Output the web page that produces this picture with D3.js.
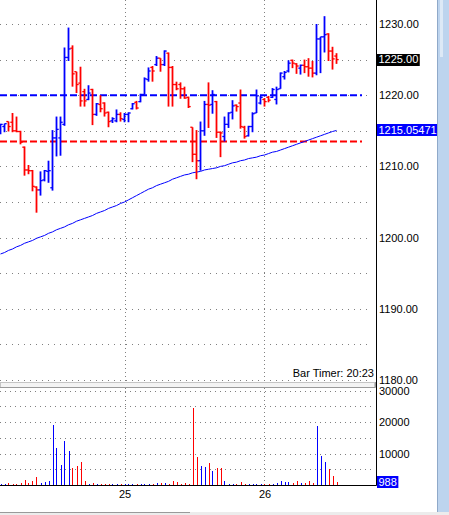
<!DOCTYPE html>
<html>
<head>
<meta charset="utf-8">
<script src="https://cdn.jsdelivr.net/npm/d3@7"></script>
<style>
  body { margin: 0; background: #fff; }
  svg { display: block; font-family: "Liberation Sans", Arial, sans-serif; font-size: 11px; }
</style>
</head>
<body>
<div id="chart"></div>
<script>
// bar data, one value per bar, oldest first
var opens = [
  1215.2, 1215.6, 1216.3, 1216.2, 1215.0, 1214.9, 1212.7, 1209.5, 1209.4, 1207.1,
  1206.7, 1208.1, 1209.3, 1207.0, 1214.0, 1214.0, 1215.9, 1225.3, 1226.6, 1223.3,
  1221.7, 1220.5, 1219.4, 1220.8, 1217.3, 1218.7, 1218.9, 1217.6, 1216.4, 1216.4,
  1217.3, 1216.6, 1217.3, 1218.1, 1219.0, 1219.1, 1220.1, 1222.2, 1223.9, 1224.3,
  1225.2, 1224.3, 1225.9, 1223.9, 1221.5, 1221.5, 1220.9, 1219.7, 1215.5, 1211.7,
  1210.8, 1215.0, 1218.7, 1218.7, 1219.1, 1214.8, 1214.2, 1215.9, 1217.6, 1218.6,
  1218.9, 1215.5, 1214.3, 1215.6, 1217.5, 1218.9, 1219.4, 1219.7, 1219.7, 1219.4,
  1220.9, 1222.6, 1223.4, 1224.9, 1224.4, 1223.8, 1224.2, 1224.0, 1223.8, 1223.1,
  1227.9, 1228.2, 1228.6, 1226.2, 1225.5
];
var highs = [
  1216.0, 1216.0, 1216.3, 1217.5, 1217.0, 1215.0, 1212.8, 1210.2, 1209.5, 1207.2,
  1209.3, 1209.5, 1210.8, 1215.1, 1217.0, 1217.0, 1226.7, 1229.5, 1227.0, 1223.3,
  1224.0, 1220.9, 1221.4, 1220.9, 1218.9, 1220.0, 1219.0, 1217.7, 1216.9, 1218.0,
  1217.6, 1217.5, 1217.6, 1218.9, 1219.2, 1220.2, 1222.5, 1223.9, 1224.1, 1225.5,
  1225.2, 1226.3, 1226.0, 1224.1, 1221.9, 1221.8, 1221.2, 1219.8, 1215.5, 1215.1,
  1216.3, 1219.2, 1221.8, 1220.7, 1219.2, 1214.9, 1217.0, 1217.6, 1219.3, 1218.7,
  1220.8, 1215.7, 1215.7, 1217.6, 1220.8, 1219.9, 1219.6, 1219.9, 1221.0, 1221.2,
  1223.2, 1223.4, 1224.9, 1225.0, 1224.5, 1224.3, 1225.0, 1225.2, 1224.8, 1230.0,
  1228.2, 1231.1, 1228.7, 1226.8, 1225.9
];
var lows = [
  1214.5, 1214.8, 1214.9, 1214.8, 1214.8, 1213.1, 1208.7, 1208.9, 1206.5, 1203.5,
  1205.9, 1207.9, 1207.7, 1206.6, 1211.4, 1211.5, 1215.7, 1224.8, 1221.2, 1220.3,
  1218.4, 1218.4, 1219.3, 1215.8, 1217.1, 1217.6, 1217.0, 1215.5, 1216.1, 1216.2,
  1216.3, 1216.2, 1216.2, 1218.0, 1218.0, 1219.0, 1220.1, 1221.9, 1221.9, 1224.1,
  1223.3, 1224.1, 1218.4, 1218.4, 1220.7, 1219.5, 1219.5, 1218.2, 1210.6, 1208.2,
  1209.4, 1214.3, 1215.4, 1217.4, 1214.0, 1211.3, 1213.5, 1215.4, 1216.6, 1217.7,
  1215.3, 1213.9, 1214.2, 1214.8, 1217.5, 1218.7, 1218.4, 1219.0, 1219.6, 1218.7,
  1220.9, 1222.2, 1223.2, 1223.8, 1223.0, 1222.9, 1223.1, 1222.6, 1222.5, 1222.8,
  1223.1, 1226.0, 1224.8, 1223.6, 1224.4
];
var closes = [
  1215.9, 1216.0, 1215.6, 1215.0, 1214.9, 1213.4, 1209.5, 1209.4, 1207.2, 1206.7,
  1208.0, 1209.4, 1209.4, 1214.0, 1215.2, 1216.2, 1225.3, 1226.5, 1223.0, 1221.5,
  1219.2, 1219.2, 1220.3, 1217.3, 1218.8, 1218.1, 1217.5, 1216.3, 1216.7, 1217.3,
  1216.7, 1217.3, 1217.5, 1218.8, 1218.2, 1220.1, 1222.3, 1223.4, 1223.4, 1225.2,
  1224.3, 1226.2, 1223.9, 1221.5, 1220.9, 1220.9, 1219.6, 1218.4, 1211.7, 1210.8,
  1215.0, 1218.7, 1218.6, 1220.1, 1214.8, 1214.7, 1215.9, 1217.5, 1218.5, 1218.4,
  1215.6, 1214.2, 1215.6, 1217.4, 1219.9, 1219.7, 1219.1, 1219.3, 1220.8, 1220.8,
  1223.1, 1223.2, 1224.5, 1224.5, 1224.1, 1224.2, 1224.0, 1223.8, 1223.1, 1227.9,
  1228.2, 1228.5, 1226.2, 1225.1, 1225.0
];
var volumes = [
  300, 300, 600, 300, 300, 600, 1600, 600, 1300, 2500,
  600, 1000, 1300, 19100, 11800, 6400, 14000, 10800, 5500, 6000,
  7300, 1300, 300, 600, 300, 300, 300, 300, 300, 300,
  300, 300, 300, 300, 300, 300, 300, 300, 300, 600,
  600, 600, 300, 1300, 1000, 400, 600, 300, 24500, 8900,
  6000, 5700, 7000, 4500, 5400, 5400, 1300, 300, 300, 300,
  1000, 300, 300, 300, 300, 300, 300, 300, 300, 600,
  1300, 1000, 1000, 600, 1300, 600, 600, 1300, 600, 18800,
  9200, 7300, 5100, 2900, 988
];
var movingAvg = [
  1197.7, 1197.9, 1198.2, 1198.4, 1198.7, 1198.9, 1199.2, 1199.4, 1199.6, 1199.9,
  1200.1, 1200.3, 1200.6, 1200.8, 1201.1, 1201.3, 1201.5, 1201.8, 1202.0, 1202.3,
  1202.5, 1202.7, 1202.9, 1203.1, 1203.4, 1203.6, 1203.8, 1204.1, 1204.3, 1204.5,
  1204.8, 1205.0, 1205.3, 1205.6, 1205.9, 1206.2, 1206.5, 1206.8, 1207.0, 1207.3,
  1207.5, 1207.7, 1207.9, 1208.2, 1208.4, 1208.6, 1208.8, 1208.9, 1209.1, 1209.2,
  1209.3, 1209.5, 1209.6, 1209.7, 1209.8, 1210.0, 1210.1, 1210.3, 1210.5, 1210.6,
  1210.8, 1210.9, 1211.1, 1211.2, 1211.3, 1211.5, 1211.6, 1211.8, 1212.0, 1212.1,
  1212.3, 1212.5, 1212.7, 1212.9, 1213.1, 1213.3, 1213.5, 1213.7, 1213.9, 1214.1,
  1214.3, 1214.5, 1214.7, 1214.9, 1215.05
];

// axes and markers
var dayTickBars = [31, 66];
var dayLabels = ["25", "26"];
var priceTicks = [1180, 1190, 1200, 1210, 1220, 1230];
var priceGrid = [1180, 1185, 1190, 1195, 1200, 1205, 1210, 1215, 1220, 1225, 1230];
var volumeTicks = [10000, 20000, 30000];
var volumeGrid = [5000, 10000, 15000, 20000, 25000, 30000];
var levelLines = [1220, 1213.5];
var levelColors = ["#0000ff", "#ff0000"];
var lastPrice = 1225.00;
var maLabel = "1215.05471";
var timerText = "Bar Timer: 20:23";

var width = 449, height = 515;
var axisX = 376.5;
var BLUE = "#0000ff", RED = "#ff0000";

var svg = d3.select("#chart").append("svg")
  .attr("width", width)
  .attr("height", height);

var x = d3.scaleLinear().domain([0, opens.length - 1]).range([0.5, 336.5]);
var y = d3.scaleLinear().domain([1180, 1230]).range([380, 24]);
var yv = d3.scaleLinear().domain([0, 30000]).range([485, 390.7]);

function barColor(i) {
  return closes[i] >= opens[i] ? BLUE : RED;
}
var idx = d3.range(opens.length);

// grid
svg.append("g").selectAll("line")
  .data(priceGrid)
  .enter().append("line")
    .attr("x1", 0).attr("x2", 372)
    .attr("y1", function(d) { return Math.round(y(d)) + 0.5; })
    .attr("y2", function(d) { return Math.round(y(d)) + 0.5; })
    .attr("stroke", "#808080")
    .attr("stroke-dasharray", "1,5");

svg.append("g").selectAll("line")
  .data(volumeGrid)
  .enter().append("line")
    .attr("x1", 0).attr("x2", 372)
    .attr("y1", function(d) { return Math.round(yv(d)) + 0.5; })
    .attr("y2", function(d) { return Math.round(yv(d)) + 0.5; })
    .attr("stroke", "#808080")
    .attr("stroke-dasharray", "1,4");

svg.append("g").selectAll("line")
  .data(dayTickBars)
  .enter().append("line")
    .attr("x1", function(d) { return Math.round(x(d)) + 0.5; })
    .attr("x2", function(d) { return Math.round(x(d)) + 0.5; })
    .attr("y1", 0).attr("y2", 485)
    .attr("stroke", "#808080")
    .attr("stroke-dasharray", "1,3");

// level lines
svg.append("g").selectAll("line")
  .data(levelLines)
  .enter().append("line")
    .attr("x1", 0).attr("x2", 362)
    .attr("y1", function(d) { return y(d); })
    .attr("y2", function(d) { return y(d); })
    .attr("stroke", function(d, i) { return levelColors[i]; })
    .attr("stroke-width", 2)
    .attr("stroke-dasharray", "7,3");

// moving average
svg.append("path")
  .datum(movingAvg)
  .attr("fill", "none")
  .attr("stroke", BLUE)
  .attr("stroke-width", 1)
  .attr("d", d3.line()
    .x(function(d, i) { return x(i); })
    .y(function(d) { return y(d); }));

// ohlc bars
var bars = svg.append("g").selectAll("g")
  .data(idx)
  .enter().append("g")
    .attr("stroke", barColor);

bars.append("line")
  .attr("x1", function(i) { return x(i); })
  .attr("x2", function(i) { return x(i); })
  .attr("y1", function(i) { return y(highs[i]); })
  .attr("y2", function(i) { return y(lows[i]); })
  .attr("stroke-width", 1.8);

bars.append("line")
  .attr("x1", function(i) { return x(i) - 2.2; })
  .attr("x2", function(i) { return x(i); })
  .attr("y1", function(i) { return y(opens[i]); })
  .attr("y2", function(i) { return y(opens[i]); })
  .attr("stroke-width", 1.3);

bars.append("line")
  .attr("x1", function(i) { return x(i); })
  .attr("x2", function(i) { return x(i) + 2.2; })
  .attr("y1", function(i) { return y(closes[i]); })
  .attr("y2", function(i) { return y(closes[i]); })
  .attr("stroke-width", 1.3);

// volume bars
svg.append("g").selectAll("line")
  .data(idx)
  .enter().append("line")
    .attr("x1", function(i) { return Math.round(x(i)) + 0.5; })
    .attr("x2", function(i) { return Math.round(x(i)) + 0.5; })
    .attr("y1", yv(0))
    .attr("y2", function(i) { return Math.min(yv(volumes[i]), yv(0) - 1); })
    .attr("stroke", barColor)
    .attr("stroke-width", 1)
    .attr("shape-rendering", "crispEdges");

// panel splitter
svg.append("rect")
  .attr("x", 0.5).attr("y", 382.5)
  .attr("width", 374).attr("height", 5)
  .attr("fill", "#f4f4f4")
  .attr("stroke", "#c4c4c4");
svg.append("path")
  .attr("d", "M0,387.5H375.5V382")
  .attr("fill", "none")
  .attr("stroke", "#9a9a9a");

// axis frame
svg.append("line")
  .attr("x1", axisX).attr("x2", axisX)
  .attr("y1", 0).attr("y2", 485.5)
  .attr("stroke", "#000");
svg.append("line")
  .attr("x1", 0).attr("x2", axisX)
  .attr("y1", 485.5).attr("y2", 485.5)
  .attr("stroke", "#000");

// right price axis
var priceAxis = svg.append("g")
  .attr("transform", "translate(376,0)")
  .call(d3.axisRight(y).tickValues(priceTicks).tickSize(0).tickPadding(3)
    .tickFormat(d3.format(".2f")));
var volAxis = svg.append("g")
  .attr("transform", "translate(376,0)")
  .call(d3.axisRight(yv).tickValues(volumeTicks).tickSize(0).tickPadding(3)
    .tickFormat(d3.format("d")));
[priceAxis, volAxis].forEach(function(g) {
  g.select(".domain").remove();
  g.selectAll("text")
    .attr("fill", "#000")
    .style("font-family", "'Liberation Sans', Arial, sans-serif")
    .style("font-size", "11px");
});

// bottom date axis
var dateAxis = svg.append("g")
  .attr("transform", "translate(0,485)")
  .call(d3.axisBottom(x).tickValues(dayTickBars).tickSize(0).tickPadding(5)
    .tickFormat(function(d, i) { return dayLabels[i]; }));
dateAxis.select(".domain").remove();
dateAxis.selectAll("text")
  .attr("fill", "#000")
  .style("font-family", "'Liberation Sans', Arial, sans-serif")
  .style("font-size", "11px");

// value boxes on the axis
function valueBox(yPos, text, fill) {
  var g = svg.append("g");
  var t = g.append("text")
    .attr("x", 378.5)
    .attr("y", yPos)
    .attr("dy", "0.35em")
    .attr("fill", "#fff")
    .text(text);
  var w = t.node().getComputedTextLength();
  g.insert("rect", "text")
    .attr("x", 377)
    .attr("y", Math.round(yPos) - 6)
    .attr("width", w + 3)
    .attr("height", 12)
    .attr("fill", fill);
}
valueBox(y(lastPrice), d3.format(".2f")(lastPrice), "#000");
valueBox(y(movingAvg[movingAvg.length - 1]), maLabel, BLUE);
valueBox(yv(volumes[volumes.length - 1]), String(volumes[volumes.length - 1]), BLUE);

// bar timer
svg.append("text")
  .attr("x", 374)
  .attr("y", 377)
  .attr("text-anchor", "end")
  .attr("fill", "#000")
  .text(timerText);

// scrollbars
svg.append("rect")
  .attr("x", 437).attr("y", 0)
  .attr("width", 12).attr("height", 512)
  .attr("fill", "#bdd4ee");
svg.append("line")
  .attr("x1", 437.5).attr("x2", 437.5)
  .attr("y1", 0).attr("y2", 512)
  .attr("stroke", "#8fa9c9");
svg.append("rect")
  .attr("x", 440).attr("y", 0)
  .attr("width", 3).attr("height", 57)
  .attr("fill", "#dde9f6");
svg.append("rect")
  .attr("x", 0).attr("y", 512)
  .attr("width", width).attr("height", 3)
  .attr("fill", "#ececec");
svg.append("line")
  .attr("x1", 0).attr("x2", 190)
  .attr("y1", 512.5).attr("y2", 512.5)
  .attr("stroke", "#9a9a9a");
</script>
</body>
</html>
